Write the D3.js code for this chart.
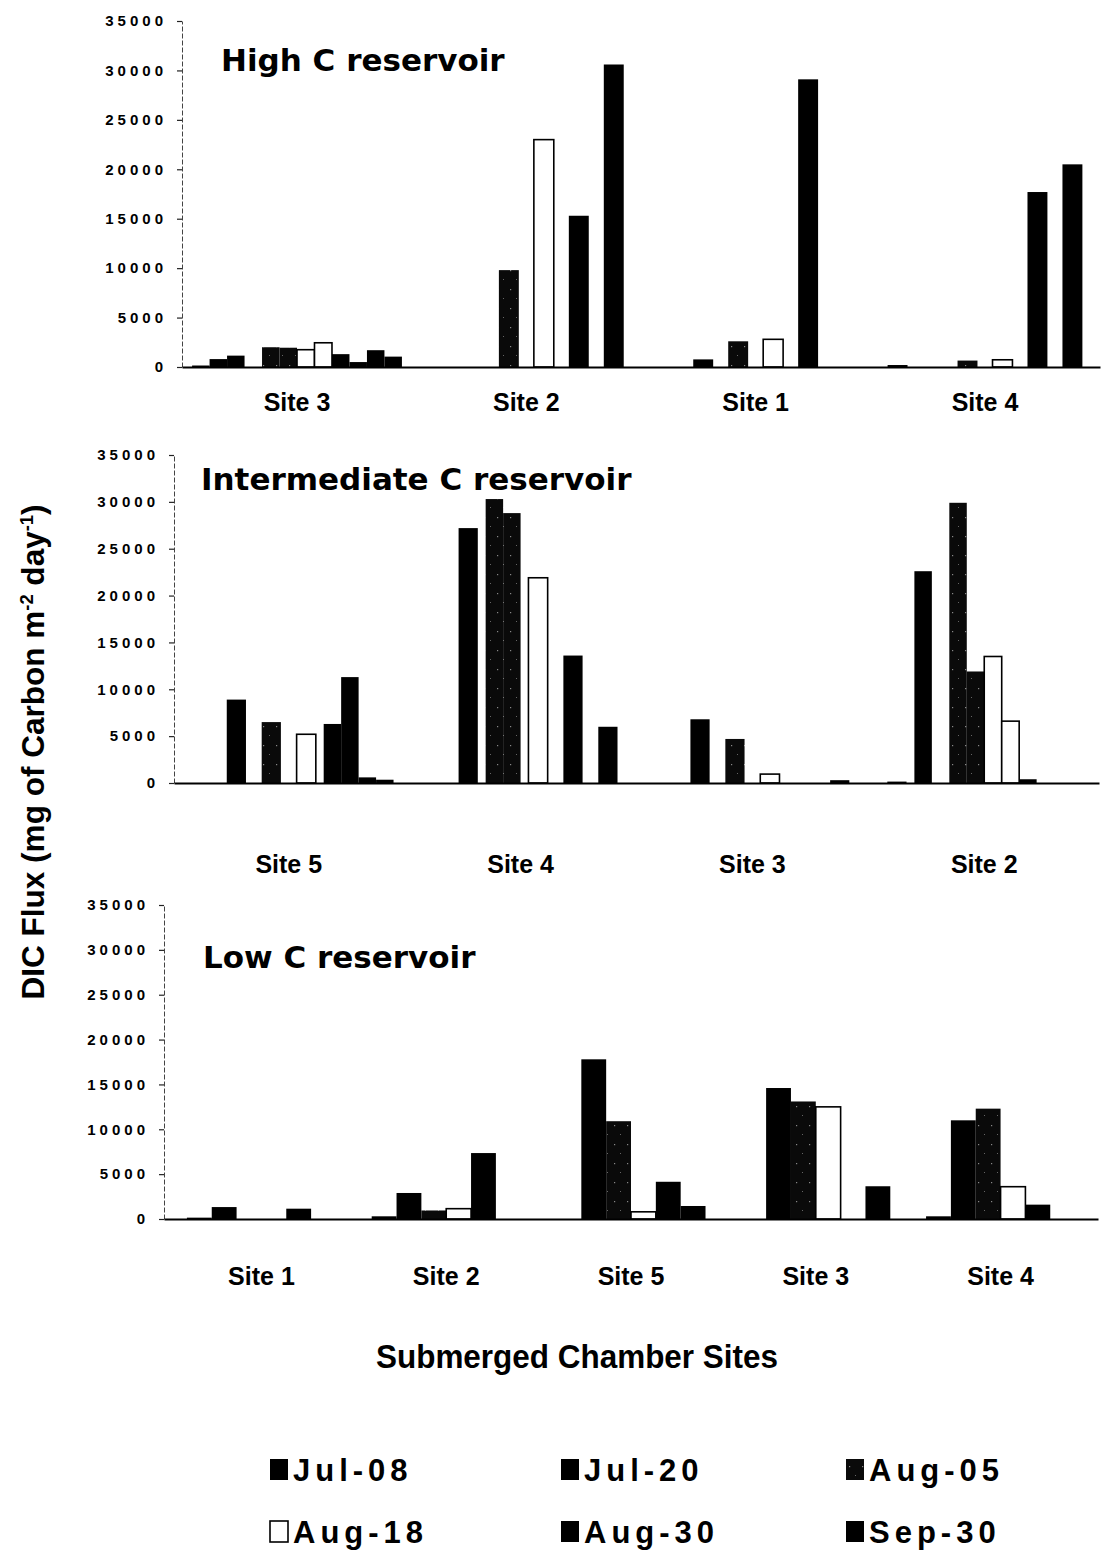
<!DOCTYPE html>
<html>
<head>
<meta charset="utf-8">
<script src="https://cdn.jsdelivr.net/npm/d3@7"></script>
<style>
  body { margin: 0; background: #fff; }
  svg { display: block; }
</style>
</head>
<body>
<svg id="chart" width="1103" height="1558"></svg>
<script>
// dates (legend order = bar order inside a site)
const series = ["Jul-08", "Jul-20", "Aug-05", "Aug-18", "Aug-30", "Sep-30"];
const yTicks = [0, 5000, 10000, 15000, 20000, 25000, 30000, 35000];

// rows = dates, columns = sites; a pair means two chambers side by side
const highSites = ["Site 3", "Site 2", "Site 1", "Site 4"];
const highValues = [
  [[150, 800], 0, 0, 200],
  [[1150, 0], 0, 770, 0],
  [[2000, 1950], 9800, 2600, 650],
  [[1750, 2450], 23000, 2800, 730],
  [[1300, 500], 15300, 29100, 17700],
  [[1700, 1050], 30600, 0, 20500]
];

const interSites = ["Site 5", "Site 4", "Site 3", "Site 2"];
const interValues = [
  [0, 0, 0, 150],
  [8900, 27200, 6800, [22600, 0]],
  [6500, [30300, 28800], 4700, [29900, 11900]],
  [5200, 21900, 950, [13500, 6600]],
  [[6300, 11300], 13600, 0, [400, 0]],
  [[600, 350], 6000, 300, 0]
];

const lowSites = ["Site 1", "Site 2", "Site 5", "Site 3", "Site 4"];
const lowValues = [
  [150, 300, 0, 0, 300],
  [1330, 2900, 17800, 14600, 11000],
  [0, 950, 10900, 13100, 12300],
  [0, 1150, 800, 12500, 3600],
  [1150, 7350, 4150, 0, 1600],
  [0, 0, 1450, 3650, 0]
];

const svg = d3.select("#chart");

// speckled fill for Aug-05 (almost black in the scan)
const defs = svg.append("defs");
const pat = defs.append("pattern")
  .attr("id", "speckle")
  .attr("width", 13).attr("height", 19)
  .attr("patternUnits", "userSpaceOnUse");
pat.append("rect").attr("width", 13).attr("height", 19).attr("fill", "#0a0a0a");
pat.append("rect").attr("x", 3).attr("y", 4).attr("width", 1.2).attr("height", 1.2).attr("fill", "#888");
pat.append("rect").attr("x", 9).attr("y", 13).attr("width", 1).attr("height", 1).attr("fill", "#666");

const fillOf = s => s === "Aug-18" ? "#fff" : (s === "Aug-05" ? "url(#speckle)" : "#000");

const panels = [
  { title: "High C reservoir", sites: highSites, values: highValues,
    x0: 182, x1: 1100, yZero: 367, yTop: 21, padIn: 0.085, padOut: 0.044, single: 0.57,
    titleX: 221, titleY: 71, siteY: 412 },
  { title: "Intermediate C reservoir", sites: interSites, values: interValues,
    x0: 174, x1: 1099, yZero: 783, yTop: 455, padIn: 0.096, padOut: 0.043, single: 0.55,
    titleX: 201, titleY: 490, siteY: 874 },
  { title: "Low C reservoir", sites: lowSites, values: lowValues,
    x0: 164, x1: 1098, yZero: 1219, yTop: 905, padIn: 0.1935, padOut: 0.124, single: 1,
    titleX: 203, titleY: 968, siteY: 1286 }
];

panels.forEach(p => {
  const g = svg.append("g");

  const x = d3.scaleBand()
    .domain(p.sites)
    .range([p.x0, p.x1])
    .paddingInner(p.padIn)
    .paddingOuter(p.padOut);

  const xs = d3.scaleBand()
    .domain(series)
    .range([0, x.bandwidth()]);

  const y = d3.scaleLinear()
    .domain([0, 35000])
    .range([p.yZero, p.yTop]);

  // y axis
  const ya = g.append("g")
    .attr("transform", `translate(${p.x0},0)`)
    .call(d3.axisLeft(y).tickValues(yTicks).tickFormat(d3.format("d"))
      .tickSize(5).tickPadding(14).tickSizeOuter(0));
  ya.select(".domain")
    .attr("stroke", "#444")
    .attr("stroke-width", 1)
    .attr("stroke-dasharray", "5,2");
  ya.selectAll(".tick line").attr("stroke", "#222").attr("stroke-width", 1.2);
  ya.selectAll(".tick text")
    .attr("dx", 4)
    .style("font-family", "'Liberation Sans', Arial, sans-serif")
    .style("font-weight", "bold")
    .style("font-size", "15px")
    .style("letter-spacing", "4px")
    .attr("fill", "#000");

  // bars
  const bars = [];
  p.sites.forEach((site, i) => {
    series.forEach((s, j) => {
      const v = p.values[j][i];
      const slot = x(site) + xs(s);
      if (Array.isArray(v)) {
        const w = xs.bandwidth() / 2;
        v.forEach((vv, k) => {
          if (vv > 0) bars.push({ s, v: vv, x: slot + k * w, w });
        });
      } else if (v > 0) {
        const w = xs.bandwidth() * p.single;
        bars.push({ s, v, x: slot + (xs.bandwidth() - w) / 2, w });
      }
    });
  });

  g.selectAll("rect.bar")
    .data(bars)
    .enter()
    .append("rect")
    .attr("class", "bar")
    .attr("x", d => d.x)
    .attr("width", d => d.w)
    .attr("y", d => y(d.v))
    .attr("height", d => y(0) - y(d.v))
    .attr("fill", d => fillOf(d.s))
    .attr("stroke", d => d.s === "Aug-18" ? "#000" : "none")
    .attr("stroke-width", 1.6);

  // x axis baseline + site names
  const xa = g.append("g")
    .attr("transform", `translate(0,${p.yZero})`)
    .call(d3.axisBottom(x).tickSize(0).tickSizeOuter(0).tickPadding(p.siteY - p.yZero - 19));
  xa.select(".domain").attr("stroke", "#000").attr("stroke-width", 2);
  xa.selectAll(".tick text")
    .style("font-family", "'Liberation Sans', Arial, sans-serif")
    .style("font-weight", "bold")
    .style("font-size", "25px")
    .attr("fill", "#000");

  // panel title
  g.append("text")
    .attr("x", p.titleX)
    .attr("y", p.titleY)
    .style("font-family", "'DejaVu Sans', sans-serif")
    .style("font-weight", "bold")
    .style("font-size", "31px")
    .text(p.title);
});

// y axis title
const yt = svg.append("text")
  .attr("transform", "translate(44,752) rotate(-90)")
  .attr("text-anchor", "middle")
  .attr("textLength", 495)
  .attr("lengthAdjust", "spacingAndGlyphs")
  .style("font-family", "'Liberation Sans', Arial, sans-serif")
  .style("font-weight", "bold")
  .style("font-size", "31px");
yt.append("tspan").text("DIC Flux (mg of Carbon m");
yt.append("tspan").attr("dy", -11).style("font-size", "18px").text("-2");
yt.append("tspan").attr("dy", 11).text(" day");
yt.append("tspan").attr("dy", -11).style("font-size", "18px").text("-1");
yt.append("tspan").attr("dy", 11).text(")");

// x axis title
svg.append("text")
  .attr("x", 577)
  .attr("y", 1368)
  .attr("text-anchor", "middle")
  .attr("textLength", 402)
  .attr("lengthAdjust", "spacingAndGlyphs")
  .style("font-family", "'Liberation Sans', Arial, sans-serif")
  .style("font-weight", "bold")
  .style("font-size", "33px")
  .text("Submerged Chamber Sites");

// legend
const legendCols = [270, 561, 846];
const legendRows = [1481, 1543];
const legend = svg.selectAll("g.legend")
  .data(series)
  .enter()
  .append("g")
  .attr("class", "legend")
  .attr("transform", (d, i) => `translate(${legendCols[i % 3]},${legendRows[Math.floor(i / 3)]})`);

legend.append("rect")
  .attr("x", 0)
  .attr("y", -22)
  .attr("width", 18)
  .attr("height", 21)
  .attr("fill", d => fillOf(d))
  .attr("stroke", d => d === "Aug-18" ? "#000" : "none")
  .attr("stroke-width", 1.6);

legend.append("text")
  .attr("x", 23)
  .attr("y", 0)
  .style("font-family", "'Liberation Sans', Arial, sans-serif")
  .style("font-weight", "bold")
  .style("font-size", "31px")
  .style("letter-spacing", "5px")
  .text(d => d);
</script>
</body>
</html>
